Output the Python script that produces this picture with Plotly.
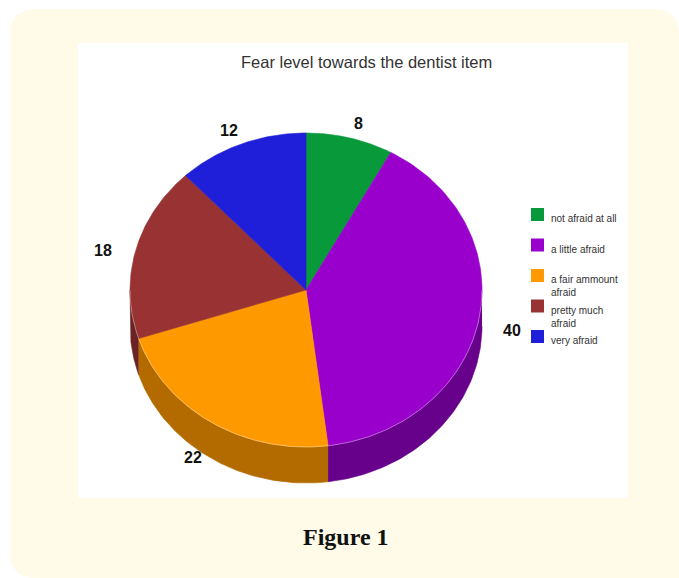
import numpy as np
import plotly.graph_objects as go

# ---- data ----
categories = ["not afraid at all", "a little afraid", "a fair ammount<br>afraid",
              "pretty much<br>afraid", "very afraid"]
values = [8, 40, 22, 18, 12]
top_colors = ["#08993a", "#9a00cc", "#ff9900", "#993333", "#1f1fd9"]
side_colors = ["#056b28", "#67008a", "#b36b00", "#6b2222", "#14148f"]
title_text = "Fear level towards the dentist item"
caption_text = "Figure 1"

# ---- geometry of the tilted pie (pixel space) ----
W, H = 679, 578
CX, CY = 306, 290          # centre of top face
RX, RY = 176, 157          # radii of top face
DEPTH = 36                 # thickness of the pie
LBL_CX, LBL_CY, LBL_RX, LBL_RY = 306, 294, 210, 176


def rim(t_deg, dy=0.0):
    t = np.radians(t_deg)
    return CX + RX * np.sin(t), CY - RY * np.cos(t) + dy


total = float(sum(values))
bounds = np.concatenate([[0], np.cumsum(values)]) / total * 360.0

fig = go.Figure()

# side walls (only the front half, 90..270 deg, is visible)
for i in range(len(values)):
    a, b = max(bounds[i], 90.0), min(bounds[i + 1], 270.0)
    if b <= a:
        continue
    ts = np.linspace(a, b, 80)
    xt, yt = rim(ts)
    xb, yb = rim(ts[::-1], DEPTH)
    fig.add_trace(go.Scatter(
        x=np.concatenate([xt, xb]), y=np.concatenate([yt, yb]),
        fill="toself", fillcolor=side_colors[i], mode="lines",
        line=dict(width=0.6, color=side_colors[i]),
        hoverinfo="skip", showlegend=False))

# top face wedges
for i, v in enumerate(values):
    ts = np.linspace(bounds[i], bounds[i + 1], 120)
    xs, ys = rim(ts)
    fig.add_trace(go.Scatter(
        x=np.concatenate([[CX], xs, [CX]]), y=np.concatenate([[CY], ys, [CY]]),
        fill="toself", fillcolor=top_colors[i], mode="lines",
        line=dict(width=0.6, color=top_colors[i]),
        name=categories[i], text=f"{v}", hoverinfo="name+text",
        showlegend=False))

# faint highlight along the front rim of the top face
ts = np.linspace(90, 270, 200)
xr, yr = rim(ts)
fig.add_trace(go.Scatter(x=xr, y=yr, mode="lines",
                         line=dict(width=1, color="rgba(255,255,255,0.35)"),
                         hoverinfo="skip", showlegend=False))

# value labels around the pie (front labels pushed down past the side wall)
for i, v in enumerate(values):
    t = np.radians((bounds[i] + bounds[i + 1]) / 2)
    drop = 0.5 * DEPTH * max(0.0, -np.cos(t))
    fig.add_annotation(
        x=LBL_CX + LBL_RX * np.sin(t), y=LBL_CY - LBL_RY * np.cos(t) + drop,
        text=f"<b>{v}</b>", showarrow=False,
        font=dict(family="Liberation Sans, Arial", size=16, color="#111"))

# legend: colour squares + text
LEG_X, LEG_TOP, LEG_STEP, SQ = 531, 208, 30.5, 13
sq_x = [LEG_X + SQ / 2] * len(categories)
sq_y = [LEG_TOP + LEG_STEP * i + SQ / 2 for i in range(len(categories))]
fig.add_trace(go.Scatter(
    x=sq_x, y=sq_y, mode="markers",
    marker=dict(symbol="square", size=SQ, color=top_colors, line=dict(width=0)),
    hoverinfo="skip", showlegend=False))
for i, lab in enumerate(categories):
    fig.add_annotation(
        x=LEG_X + 18, y=LEG_TOP + LEG_STEP * i + 3, text=lab,
        xanchor="left", yanchor="top", align="left", showarrow=False,
        font=dict(family="Liberation Sans, Arial", size=10, color="#333"))

# title and caption
fig.add_annotation(x=366, y=62, text=title_text, showarrow=False,
                   font=dict(family="Liberation Sans, Arial", size=16.5, color="#333"))
fig.add_annotation(x=346, y=537, text=f"<b>{caption_text}</b>", showarrow=False,
                   font=dict(family="Liberation Serif, serif", size=24, color="#111"))

# cream rounded panel and white chart area
x0, y0, x1, y1, r = 10, 9, 679, 578, 26
panel = (f"M{x0 + r},{y0} L{x1 - r},{y0} Q{x1},{y0} {x1},{y0 + r} "
         f"L{x1},{y1} L{x0 + r},{y1} "
         f"Q{x0},{y1} {x0},{y1 - r} L{x0},{y0 + r} Q{x0},{y0} {x0 + r},{y0} Z")
fig.add_shape(type="path", path=panel, xref="x", yref="y", layer="below",
              fillcolor="#fffbe8", line=dict(width=0))
fig.add_shape(type="rect", x0=78, y0=43, x1=628, y1=498, xref="x", yref="y",
              layer="below", fillcolor="#ffffff", line=dict(width=0))

fig.update_xaxes(range=[0, W], visible=False, fixedrange=True)
fig.update_yaxes(range=[H, 0], visible=False, fixedrange=True)
fig.update_layout(width=W, height=H, margin=dict(l=0, r=0, t=0, b=0),
                  paper_bgcolor="#ffffff", plot_bgcolor="rgba(0,0,0,0)",
                  showlegend=False)

fig.write_html("out.html")
